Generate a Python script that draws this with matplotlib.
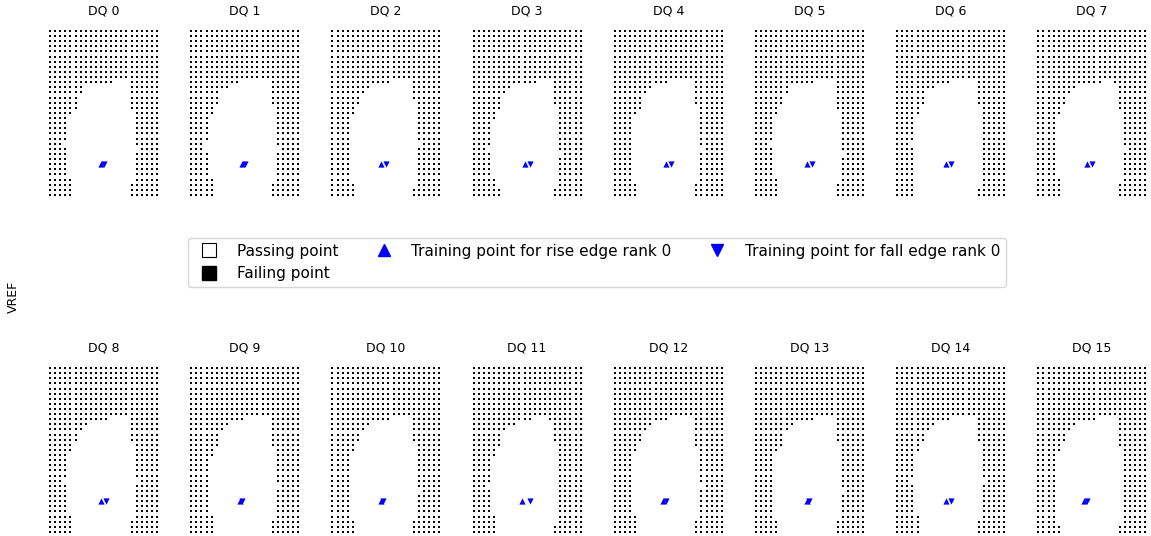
import numpy as np
import matplotlib.pyplot as plt
from matplotlib.lines import Line2D

# sweep grid: 22 delay steps (every 2 taps) x 33 VREF steps
n_cols = 22
n_rows = 33
tap_step = 2
closed_rows = 10  # rows at the top that fail across the whole sweep

dq_names = ["DQ %d" % i for i in range(16)]

# failing columns counted from the left / right edge, rows 10..32 from the top
left_fail = [
    [13, 7, 7, 6, 6, 6, 5, 4, 4, 4, 4, 4, 3, 4, 4, 4, 4, 4, 4, 5, 5, 5, 5],
    [10, 8, 6, 6, 6, 5, 5, 4, 4, 4, 4, 4, 3, 3, 4, 4, 4, 4, 4, 5, 5, 5, 5],
    [12, 8, 7, 6, 6, 5, 5, 4, 4, 4, 4, 4, 4, 4, 4, 4, 4, 4, 4, 4, 5, 5, 5],
    [13, 8, 7, 6, 6, 6, 5, 5, 4, 4, 4, 4, 4, 3, 4, 4, 4, 4, 4, 5, 5, 6, 6],
    [11, 8, 7, 6, 6, 6, 5, 4, 4, 4, 4, 4, 4, 4, 4, 4, 4, 4, 4, 4, 5, 5, 5],
    [12, 7, 7, 6, 6, 5, 5, 4, 4, 4, 4, 4, 3, 4, 4, 4, 4, 4, 4, 5, 5, 5, 5],
    [11, 8, 6, 6, 6, 5, 5, 4, 4, 4, 4, 4, 3, 4, 4, 4, 4, 4, 4, 4, 4, 4, 4],
    [13, 8, 7, 6, 6, 5, 5, 4, 4, 4, 4, 4, 4, 4, 4, 4, 4, 4, 4, 5, 5, 5, 5],
    [12, 8, 7, 6, 6, 5, 5, 4, 4, 4, 4, 4, 3, 4, 4, 4, 4, 4, 4, 5, 5, 5, 5],
    [11, 8, 7, 6, 6, 6, 5, 5, 4, 4, 4, 4, 4, 4, 4, 4, 4, 4, 4, 5, 5, 5, 5],
    [12, 8, 7, 6, 6, 5, 5, 4, 4, 4, 4, 4, 4, 4, 4, 4, 4, 4, 4, 4, 5, 5, 5],
    [12, 9, 7, 6, 6, 6, 5, 5, 4, 4, 4, 4, 4, 3, 4, 4, 4, 4, 4, 5, 5, 5, 5],
    [11, 8, 7, 6, 6, 5, 5, 4, 4, 4, 4, 4, 4, 4, 4, 4, 4, 4, 4, 5, 5, 5, 5],
    [12, 8, 7, 6, 6, 6, 5, 4, 4, 4, 4, 4, 4, 4, 4, 4, 4, 4, 4, 4, 5, 5, 5],
    [11, 8, 7, 6, 6, 5, 5, 4, 4, 4, 4, 4, 3, 4, 4, 4, 4, 4, 4, 5, 5, 5, 5],
    [12, 8, 7, 6, 6, 5, 5, 4, 4, 4, 4, 4, 4, 4, 4, 4, 4, 4, 4, 4, 4, 5, 5],
]
right_fail = [
    [6, 6, 6, 6, 6, 6, 5, 5, 5, 5, 5, 5, 5, 4, 5, 5, 5, 5, 5, 5, 6, 6, 6],
    [6, 6, 6, 6, 6, 5, 5, 5, 5, 5, 5, 5, 5, 4, 5, 5, 5, 5, 5, 5, 6, 6, 6],
    [6, 6, 6, 6, 5, 5, 5, 5, 5, 5, 5, 5, 4, 5, 5, 5, 5, 5, 5, 5, 5, 6, 6],
    [6, 6, 6, 6, 6, 5, 5, 5, 5, 5, 5, 5, 5, 5, 4, 5, 5, 5, 5, 5, 5, 6, 6],
    [6, 6, 6, 6, 6, 5, 5, 5, 5, 5, 5, 5, 5, 4, 5, 5, 5, 5, 5, 5, 6, 6, 6],
    [6, 6, 6, 6, 6, 6, 5, 5, 5, 5, 5, 5, 5, 5, 4, 5, 5, 5, 5, 5, 6, 6, 6],
    [6, 6, 6, 6, 6, 5, 5, 5, 5, 5, 5, 5, 5, 5, 5, 5, 5, 5, 5, 5, 5, 6, 6],
    [7, 6, 6, 6, 6, 6, 5, 5, 5, 5, 5, 5, 5, 4, 5, 5, 5, 5, 5, 5, 6, 6, 6],
    [6, 6, 6, 6, 6, 5, 5, 5, 5, 5, 5, 5, 4, 5, 5, 5, 5, 5, 5, 5, 6, 6, 6],
    [6, 6, 6, 6, 6, 6, 5, 5, 5, 5, 5, 5, 5, 4, 5, 5, 5, 5, 5, 5, 6, 6, 6],
    [6, 6, 6, 6, 6, 5, 5, 5, 5, 5, 5, 5, 5, 5, 4, 5, 5, 5, 5, 5, 6, 6, 6],
    [7, 6, 6, 6, 6, 5, 5, 5, 5, 5, 5, 5, 5, 5, 5, 5, 5, 5, 5, 5, 5, 6, 6],
    [6, 6, 6, 6, 6, 6, 5, 5, 5, 5, 5, 5, 5, 4, 5, 5, 5, 5, 5, 5, 6, 6, 6],
    [6, 6, 6, 6, 6, 5, 5, 5, 5, 5, 5, 5, 5, 5, 4, 5, 5, 5, 5, 5, 6, 6, 6],
    [6, 6, 6, 6, 6, 5, 5, 5, 5, 5, 5, 5, 4, 5, 5, 5, 5, 5, 5, 5, 6, 6, 6],
    [6, 6, 6, 6, 6, 6, 5, 5, 5, 5, 5, 5, 5, 5, 5, 5, 5, 5, 5, 5, 5, 6, 6],
]

# trained delay taps and VREF step per DQ
rise_tap = [20, 20, 19, 20, 20, 20, 19, 19, 20, 19, 19, 19, 19, 20, 19, 18]
fall_tap = [21, 21, 21, 22, 22, 22, 21, 21, 22, 20, 20, 22, 20, 21, 21, 19]
train_vref = [6] * 16

fig, axes = plt.subplots(2, 8, figsize=(11.51, 5.36), dpi=100)
fig.subplots_adjust(left=0.0413, right=0.9973, top=0.947, bottom=0.0027,
                    wspace=0.26, hspace=0.993)

for dq, ax in enumerate(axes.flat):
    pass_x, pass_y, fail_x, fail_y = [], [], [], []
    for r in range(n_rows):
        vref = n_rows - 1 - r
        for c in range(n_cols):
            if r < closed_rows:
                fail = True
            else:
                lo = left_fail[dq][r - closed_rows]
                hi = n_cols - right_fail[dq][r - closed_rows]
                fail = c < lo or c >= hi
            if fail:
                fail_x.append(c * tap_step)
                fail_y.append(vref)
            else:
                pass_x.append(c * tap_step)
                pass_y.append(vref)
    ax.scatter(pass_x, pass_y, marker="s", s=2.5, c="white", linewidths=0)
    ax.scatter(fail_x, fail_y, marker="s", s=2.5, c="black", linewidths=0)
    ax.scatter([rise_tap[dq]], [train_vref[dq]], marker="^", s=20, c="blue",
               linewidths=0, zorder=3)
    ax.scatter([fall_tap[dq]], [train_vref[dq]], marker="v", s=20, c="blue",
               linewidths=0, zorder=3)
    ax.set_xlim(-1, (n_cols - 1) * tap_step + 1)
    ax.set_ylim(-0.5, n_rows - 0.5)
    ax.set_title(dq_names[dq], fontsize=9, pad=10)
    ax.axis("off")

handles = [
    Line2D([], [], ls="", marker="s", ms=10, mfc="white", mec="black", mew=0.8),
    Line2D([], [], ls="", marker="s", ms=10, mfc="black", mec="black"),
    Line2D([], [], ls="", marker="^", ms=8.5, mfc="blue", mec="blue"),
    Line2D([], [], ls="", marker="v", ms=8.5, mfc="blue", mec="blue"),
]
labels = ["Passing point", "Failing point",
          "Training point for rise edge rank 0",
          "Training point for fall edge rank 0"]
fig.legend(handles, labels, ncol=3, loc="center", bbox_to_anchor=(0.5187, 0.5103),
           fontsize=11)

fig.text(0.0113, 0.446, "VREF", rotation=90, ha="center", va="center", fontsize=9)

fig.savefig("out.png", dpi=100)
